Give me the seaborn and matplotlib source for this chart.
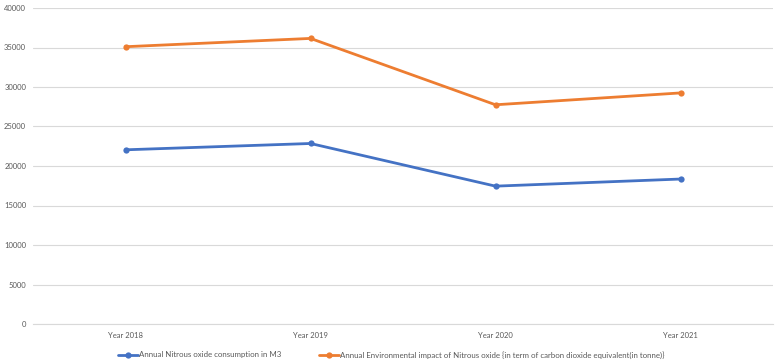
import matplotlib
matplotlib.use("Agg")
import matplotlib.pyplot as plt
import pandas as pd
import seaborn as sns

years = ["Year 2018", "Year 2019", "Year 2020", "Year 2021"]
consumption = [22050, 22850, 17450, 18350]
impact = [35100, 36150, 27750, 29250]
series_names = [
    "Annual Nitrous oxide consumption in M3",
    "Annual Environmental impact of Nitrous oxide {in term of carbon dioxide equivalent(in tonne)}",
]

df = pd.DataFrame({
    "year": years * 2,
    "value": consumption + impact,
    "series": [series_names[0]] * 4 + [series_names[1]] * 4,
})

sns.set_style("white")
plt.rcParams["font.family"] = ["Lato", "DejaVu Sans"]

fig = plt.figure(figsize=(7.75, 3.63), dpi=100)
ax = fig.add_axes([33 / 775, 1 - 324 / 363, 740 / 775, 316 / 363])

sns.lineplot(data=df, x="year", y="value", hue="series",
             palette=["#4472C4", "#ED7D31"], marker="o", markersize=4.5,
             markeredgewidth=0, linewidth=2, ax=ax, legend=True)

ax.set_ylim(0, 40000)
ax.set_yticks(range(0, 40001, 5000))
ax.set_xlim(-0.5, 3.5)
ax.grid(axis="y", color="#D9D9D9", linewidth=0.8)
ax.set_axisbelow(True)
for s in ["top", "right", "left"]:
    ax.spines[s].set_visible(False)
ax.spines["bottom"].set_color("#D9D9D9")
ax.tick_params(axis="both", length=0, labelsize=5.5, labelcolor="#595959")
ax.tick_params(axis="x", pad=6)
ax.tick_params(axis="y", pad=5)
ax.set_xlabel("")
ax.set_ylabel("")

h, l = ax.get_legend_handles_labels()
ax.legend(h, l, loc="center", bbox_to_anchor=(0.484, -0.097), ncol=2, frameon=False,
          fontsize=5.7, labelcolor="#595959", handlelength=2.6, handletextpad=0.1,
          columnspacing=4.7)

fig.savefig("out.png", dpi=100)
